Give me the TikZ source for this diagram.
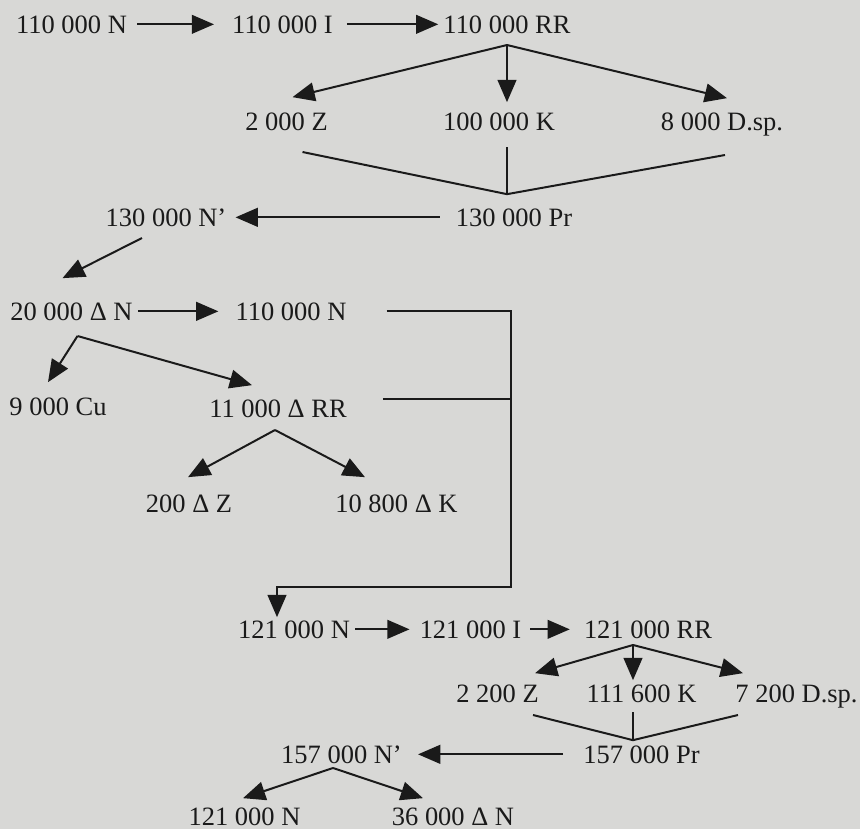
\documentclass[tikz,border=0pt]{standalone}
\usepackage{fontspec}
\setmainfont{Liberation Serif}
\usepackage{xcolor}
\usepackage{tikz}
\usetikzlibrary{arrows.meta,positioning,calc}
\definecolor{pagegray}{HTML}{D8D8D6}
\definecolor{inkgray}{HTML}{1A1A1A}

\begin{document}
\begin{tikzpicture}[
  x=0.03cm,y=-0.03cm,
  amt/.style={anchor=base,inner sep=0pt,text=inkgray,
    font=\fontsize{22.6}{27}\selectfont},
  flow/.style={-{Triangle[length=19pt,width=16pt]},line width=1.7pt,draw=inkgray},
  link/.style={line width=1.7pt,draw=inkgray}
]
\fill[pagegray] (0,0) rectangle (860,829);
% first turnover
\node[amt] (n0) at (71.5,33) {110 000 N};
\node[amt] (i0) at (282.5,33) {110 000 I};
\node[amt] (rr0) at (507,33) {110 000 RR};
\node[amt] (z0) at (286.5,130) {2 000 Z};
\node[amt] (k0) at (499,130) {100 000 K};
\node[amt] (dsp0) at (722,130) {8 000 D.sp.};
\node[amt] (np0) at (166,226) {130 000 N’};
\node[amt] (pr0) at (514,226) {130 000 Pr};
\coordinate (rr0split) at ($(rr0.base)+(0,12)$);
\coordinate (pr0join) at ($(rr0split |- pr0.north)+(0,-14)$);
\draw[flow] ($(n0.east)+(10,0)$) -- ($(i0.west)+(-18,0)$);
\draw[flow] ($(i0.east)+(14,0)$) -- ($(rr0.west)+(-5,0)$);
\draw[flow] (rr0split) -- ($(z0.north)+(6,-15)$);
\draw[flow] (rr0split) -- ($(rr0split |- k0.north)+(0,-10)$);
\draw[flow] (rr0split) -- ($(dsp0.north)+(5,-14)$);
\draw[link] ($(z0.base)+(16,22)$) -- (pr0join) -- ($(dsp0.base)+(3,25)$);
\draw[link] ($(pr0join |- k0.base)+(0,17)$) -- (pr0join);
\draw[flow] ($(pr0.west)+(-16,0)$) -- ($(np0.east)+(9,0)$);
% accumulation
\node[amt] (dn) at (71.5,320) {20 000 Δ N};
\node[amt] (nn) at (291,320) {110 000 N};
\node[amt] (cu) at (58,415) {9 000 Cu};
\node[amt] (drr) at (278,417) {11 000 Δ RR};
\node[amt] (dz) at (189,512) {200 Δ Z};
\node[amt] (dk) at (396.5,512) {10 800 Δ K};
\coordinate (dnsplit) at ($(dn.base)+(6,16)$);
\coordinate (drrsplit) at ($(drr.base)+(-3,13)$);
\draw[flow] ($(np0.base)+(-24,12)$) -- ($(dn.north)+(-9,-24)$);
\draw[flow] ($(dn.east)+(5,0)$) -- ($(nn.west)+(-17,0)$);
\draw[flow] (dnsplit) -- ($(cu.north)+(-10,-15)$);
\draw[flow] (dnsplit) -- ($(drr.north)+(-26,-14)$);
\draw[flow] (drrsplit) -- ($(dz.north)+(-1,-17)$);
\draw[flow] (drrsplit) -- ($(dk.north)+(-31.5,-17)$);
% second turnover
\node[amt] (n1) at (294,638) {121 000 N};
\node[amt] (i1) at (470.5,638) {121 000 I};
\node[amt] (rr1) at (648,638) {121 000 RR};
\node[amt] (z1) at (497.5,702) {2 200 Z};
\node[amt] (k1) at (641.5,702) {111 600 K};
\node[amt] (dsp1) at (796.5,702) {7 200 D.sp.};
\node[amt] (np1) at (341.5,763) {157 000 N’};
\node[amt] (pr1) at (641.5,763) {157 000 Pr};
\node[amt] (nout) at (244.5,825) {121 000 N};
\node[amt] (dnout) at (453,825) {36 000 Δ N};
\coordinate (back) at (511,587);
\draw[flow] ($(nn.east)+(40,0)$) -| (back) -| ($(n1.north)+(-17,-3)$);
\draw[link] ($(drr.north east)+(36,0)$) -- (drr.north east -| back);
\coordinate (rr1split) at ($(rr1.base)+(-15,7)$);
\coordinate (pr1join) at ($(rr1split |- pr1.north)+(0,-5)$);
\draw[flow] ($(n1.east)+(5,0)$) -- ($(i1.west)+(-10,0)$);
\draw[flow] ($(i1.east)+(9,0)$) -- ($(rr1.west)+(-14,0)$);
\draw[flow] (rr1split) -- ($(z1.north)+(37.5,-11)$);
\draw[flow] (rr1split) -- ($(rr1split |- k1.north)+(0,-4)$);
\draw[flow] (rr1split) -- ($(dsp1.north)+(-53.5,-11)$);
\draw[link] ($(z1.base)+(35.5,13)$) -- (pr1join) -- ($(dsp1.base)+(-58.5,13)$);
\draw[link] ($(pr1join |- k1.base)+(0,10)$) -- (pr1join);
\draw[flow] ($(pr1.west)+(-20,0)$) -- ($(np1.east)+(16,0)$);
\coordinate (np1split) at ($(np1.base)+(-8.5,5)$);
\draw[flow] (np1split) -- ($(nout.north)+(-1.5,-9)$);
\draw[flow] (np1split) -- ($(dnout.north)+(-30,-9)$);
\end{tikzpicture}
\end{document}
